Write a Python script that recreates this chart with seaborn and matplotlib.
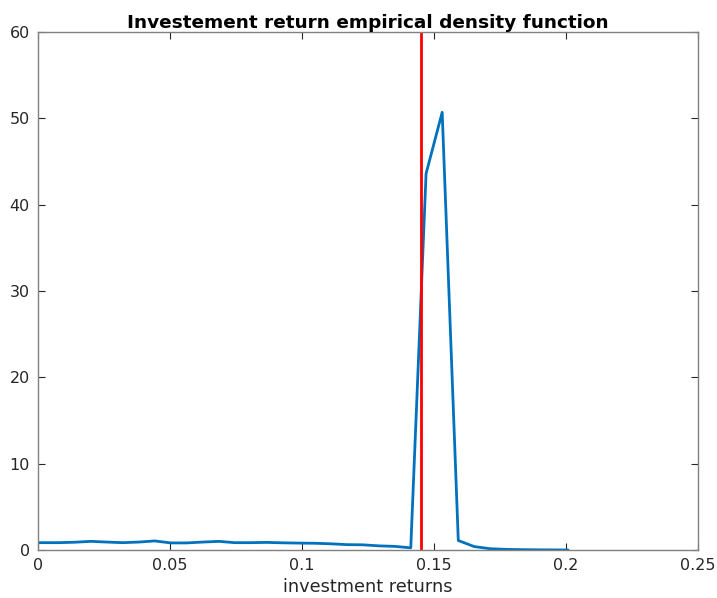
import matplotlib
matplotlib.use("Agg")
import matplotlib.pyplot as plt
import seaborn as sns
import pandas as pd

returns = [-0.0043, 0.0018, 0.0079, 0.0139, 0.0200, 0.0260, 0.0321, 0.0382, 0.0442,
           0.0503, 0.0563, 0.0624, 0.0685, 0.0745, 0.0806, 0.0867, 0.0927, 0.0988,
           0.1048, 0.1109, 0.1170, 0.1230, 0.1291, 0.1352, 0.1412, 0.1470, 0.1531,
           0.1592, 0.1652, 0.1712, 0.1776, 0.1836, 0.1897, 0.1958, 0.2008]
density = [0.85, 0.85, 0.85, 0.90, 1.00, 0.92, 0.85, 0.92, 1.05,
           0.82, 0.82, 0.92, 1.00, 0.85, 0.85, 0.88, 0.83, 0.80,
           0.78, 0.72, 0.62, 0.60, 0.48, 0.42, 0.25, 43.6, 50.7,
           1.10, 0.40, 0.15, 0.07, 0.04, 0.02, 0.01, 0.00]
threshold = 0.1451
xticks = [0, 0.05, 0.1, 0.15, 0.2, 0.25]
xticklabels = ["0", "0.05", "0.1", "0.15", "0.2", "0.25"]
yticks = [0, 10, 20, 30, 40, 50, 60]

sns.set_theme(style="white")
plt.rcParams['font.family'] = ['DejaVu Sans']

df = pd.DataFrame({"x": returns, "y": density})

fig = plt.figure(figsize=(7.17, 5.98), dpi=100)
ax = fig.add_axes([38/717, 1 - 550/598, 660/717, 518/598])

sns.lineplot(data=df, x="x", y="y", ax=ax, color="#0072BD", linewidth=2.0, sort=False)
ax.axvline(threshold, color="#FF0000", linewidth=2.0)

ax.set_xlim(0, 0.25)
ax.set_ylim(0, 60)
ax.set_xticks(xticks)
ax.set_xticklabels(xticklabels)
ax.set_yticks(yticks)
ax.tick_params(direction="in", length=5, width=0.8, colors="#262626", labelsize=11.5,
               top=True, right=True, bottom=True, left=True, pad=6)
for s in ax.spines.values():
    s.set_color("#808080")
    s.set_linewidth(1.0)
ax.set_xlabel("investment returns", fontsize=12.8, color="#262626", labelpad=3)
ax.set_ylabel("")
ax.set_title("Investement return empirical density function", fontsize=13.3,
             fontweight="bold", color="black", pad=3)

fig.savefig("out.png", dpi=100)
